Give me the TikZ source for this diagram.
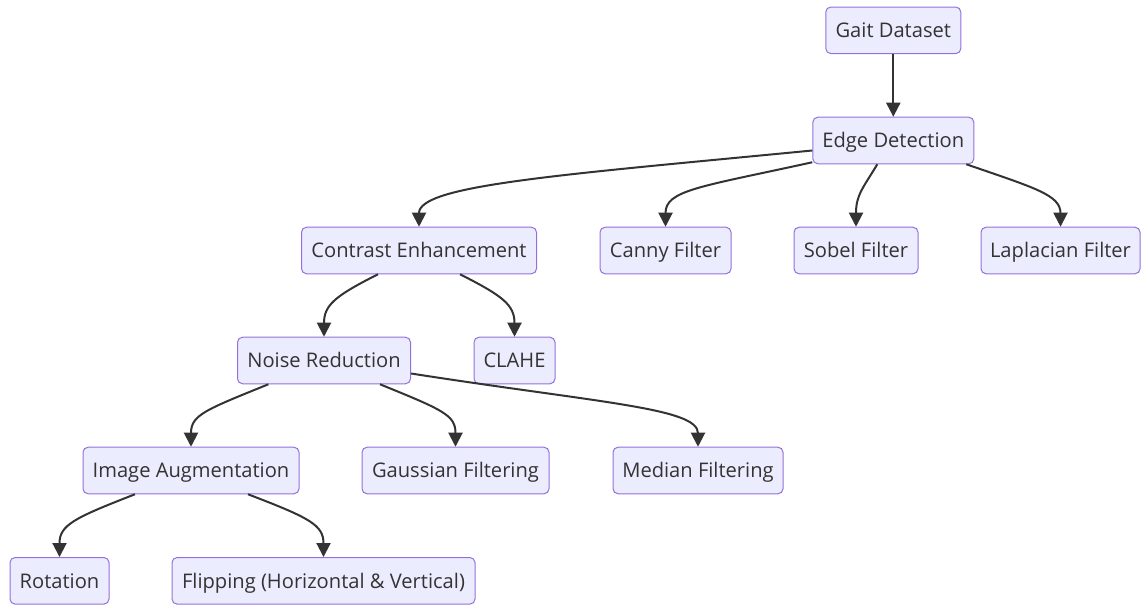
\documentclass[tikz,border=0pt]{standalone}
\usepackage{fontspec}
\setmainfont{Open Sans}
\usetikzlibrary{arrows.meta,calc}
\definecolor{nfill}{HTML}{ECECFF}
\definecolor{nborder}{HTML}{9370DB}
\definecolor{ink}{HTML}{333333}
\begin{document}
\begin{tikzpicture}[x=0.75pt,y=-0.75pt,
  box/.style={draw=nborder, fill=nfill, line width=0.75pt, rounded corners=3.75pt,
    minimum height=34.9pt, inner sep=0pt, text=ink, text height=10.8pt, text depth=0pt,
    font=\fontsize{15.1}{18}\selectfont, minimum width={#1*0.75pt}},
  link/.style={draw=ink, line width=1.5pt, -{Triangle[length=10.5pt,width=10.5pt]}}]
\useasboundingbox (0,0) rectangle (1141,605);
% nodes
\node[box=135] (gait) at (893.3,30.3) {Gait Dataset};
\node[box=161] (edge) at (893.3,140.5) {Edge Detection};
\node[box=235] (contrast) at (419,250.5) {Contrast Enhancement};
\node[box=131] (canny) at (665.5,250.5) {Canny Filter};
\node[box=124] (sobel) at (856,250.5) {Sobel Filter};
\node[box=159] (lap) at (1060.5,250.5) {Laplacian Filter};
\node[box=173] (noise) at (324,360.5) {Noise Reduction};
\node[box=81] (clahe) at (514.5,360.5) {CLAHE};
\node[box=216] (aug) at (191,470.5) {Image Augmentation};
\node[box=187] (gauss) at (455.5,470.5) {Gaussian Filtering};
\node[box=170] (median) at (698,470.5) {Median Filtering};
\node[box=99] (rot) at (59.5,580.8) {Rotation};
\node[box=303] (flip) at (323.5,580.8) {Flipping (Horizontal \& Vertical)};
% connectors
\draw[link] (gait.south) -- (gait.south |- edge.north);
\draw[link] ($(edge.west)+(0,10)$) .. controls (560,175) and (419,185) .. (contrast.north);
\draw[link] ($(edge.south west)+(0,-2)$) .. controls (700,187) and (665.5,190) .. (canny.north);
\draw[link] ($(edge.south)+(-16,0)$) .. controls (863,188) and (856,195) .. (sobel.north);
\draw[link] ($(edge.south east)+(-8,0)$) .. controls (1035,188) and (1060.5,195) .. (lap.north);
\draw[link] ($(contrast.south)+(-41,0)$) .. controls (335,296) and (324,305) .. (noise.north);
\draw[link] ($(contrast.south)+(41,0)$) .. controls (503,296) and (514.5,305) .. (clahe.north);
\draw[link] ($(noise.south)+(-55.6,0)$) .. controls (205,410) and (191,415) .. (aug.north);
\draw[link] ($(noise.south)+(56,0)$) .. controls (443,410) and (455.5,415) .. (gauss.north);
\draw[link] ($(noise.east)+(0,13)$) .. controls (600,403) and (698,408) .. (median.north);
\draw[link] ($(aug.south)+(-56,0)$) .. controls (74,518) and (59.5,525) .. (rot.north);
\draw[link] ($(aug.south)+(57,0)$) .. controls (310,518) and (323.5,525) .. (flip.north);
\end{tikzpicture}
\end{document}
